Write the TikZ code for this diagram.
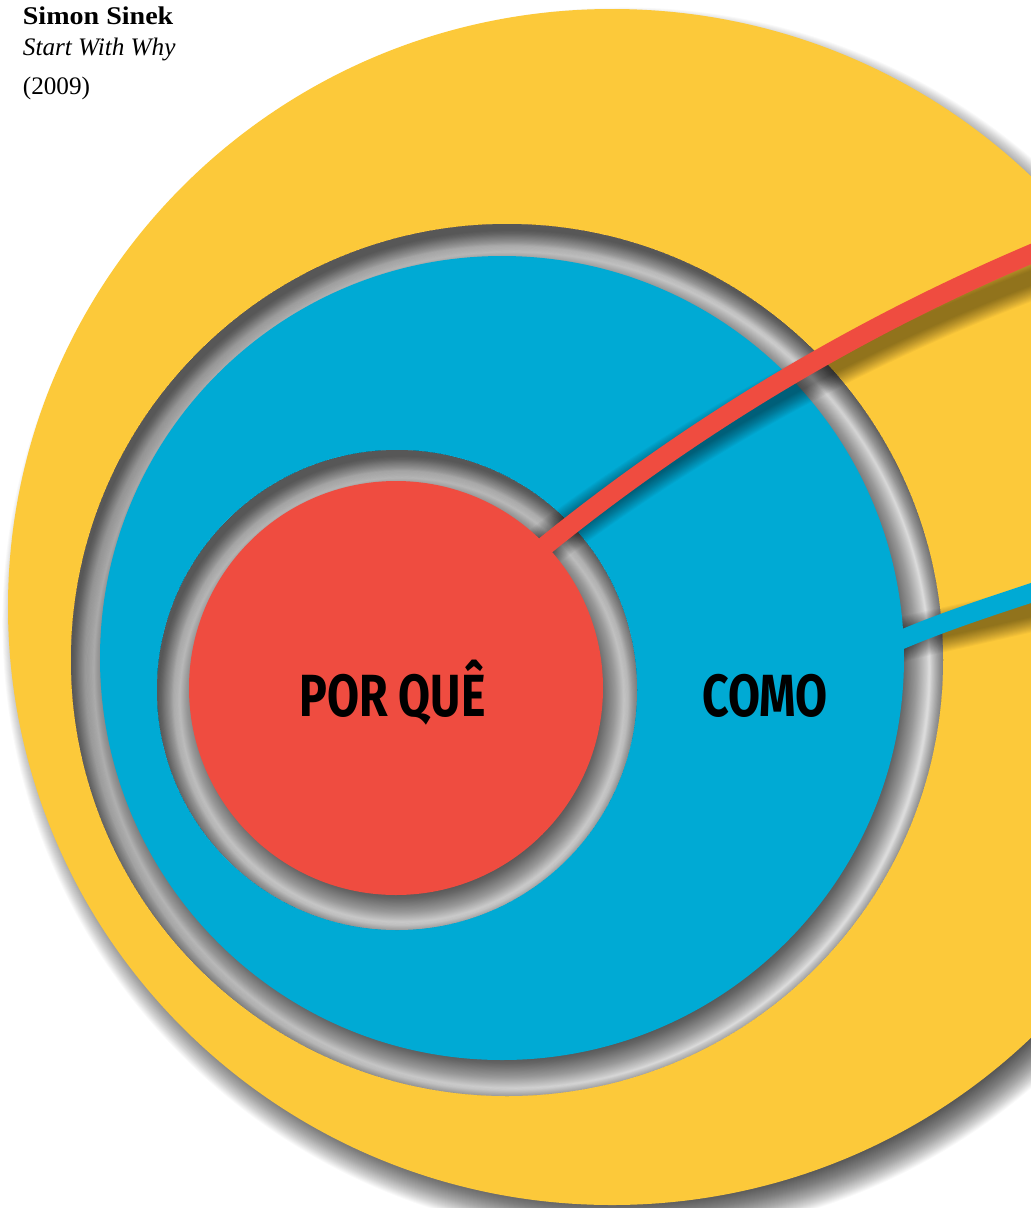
\documentclass[tikz,border=0pt]{standalone}
\usepackage{fontspec}
\newfontfamily\serifl{Liberation Serif}
\newfontfamily\headfont{Fira Sans}
\definecolor{ylw}{HTML}{FCC93A}
\definecolor{blu}{HTML}{00AAD4}
\definecolor{rd}{HTML}{EF4C40}
\definecolor{ringgray}{HTML}{DBDBDB}
% drop shadow of a disk: cx, cy, R, lo, hi
\newcommand{\diskshadow}[5]{%
  \foreach \k in {0,...,39}{%
    \fill[black,fill opacity=0.019] (#1,#2) circle[radius={#3+#4+(\k+0.5)*(#5-(#4))/40}];}}
% inset shadow inside a hole: cx, cy, R, dx, dy, lo, hi
\newcommand{\insetshadow}[7]{%
  \begin{scope}
  \clip (#1,#2) circle[radius=#3];
  \foreach \k in {0,...,39}{%
    \fill[black,fill opacity=0.019,even odd rule] (#1,#2) circle[radius={#3+40}]
      ({#1+#4},{#2+#5}) circle[radius={#3+#6+(\k+0.5)*(#7-(#6))/40}];}
  \end{scope}}
\tikzset{
  bigword/.style={anchor=base,inner sep=0pt,font=\headfont\bfseries\fontsize{59.5}{60}\selectfont},
  metaline/.style={anchor=base west,inner sep=0pt},
  ribbon/.style={line width=19pt,line cap=butt},
}
\begin{document}
\begin{tikzpicture}[x=1pt,y=-1pt]
\useasboundingbox (0,0) rectangle (1031,1208);
\fill[white] (0,0) rectangle (1031,1208);
% key points
\coordinate (rs) at (515,570);
\coordinate (r0) at (546,545);
\coordinate (r3) at (1031,254);
\coordinate (re) at (1080,233);
\coordinate (bs) at (878,649.5);
\coordinate (b0) at (904,638.5);
\coordinate (b3) at (1031,593);
\coordinate (be) at (1070,580);
\begin{scope}
\clip (0,0) rectangle (1031,1208);
% yellow disk shadow on the page
\foreach \k in {0,...,39}{%
  \fill[black,fill opacity=0.022] (624,623) ellipse[x radius={584+(\k+0.5)*38/40}, y radius={578+(\k+0.5)*38/40}];}
\fill[ylw] (612,607) ellipse[x radius=604, y radius=598];
% outer hole
\fill[ringgray] (507,660) circle[radius=436];
\insetshadow{507}{660}{436}{5}{10}{-18}{4}
\begin{scope}
  \clip (507,660) circle[radius=436];
  \diskshadow{507}{668}{402}{-12}{20}
\end{scope}
% blue ribbon shadow
\foreach \w in {44,42,...,14}{%
  \draw[black,draw opacity=0.032,line width=\w pt] (bs) -- (b0) .. controls (948,628.9) and (992,618.9) .. (1035,609) -- (1074,596);}
\fill[blu] (502,658) circle[radius=402];
\draw[ribbon,blu] (bs) -- (b0) .. controls (946,620.9) and (989,606.9) .. (b3) -- (be);
% inner hole
\fill[ringgray] (397,690) circle[radius=240];
\insetshadow{397}{690}{240}{5}{10}{-18}{4}
\begin{scope}
  \clip (397,690) circle[radius=240];
  \diskshadow{401}{698}{207}{-12}{20}
\end{scope}
% red ribbon shadow
\foreach \w in {44,42,...,14}{%
  \draw[black,draw opacity=0.032,line width=\w pt] (rs) -- (r0) .. controls (695,433) and (861,342) .. (1037,276) -- (1086,255);}
\fill[rd] (396,688) circle[radius=207];
\draw[ribbon,rd] (rs) -- (r0) .. controls (693,426) and (857,328) .. (r3) -- (re);
\end{scope}
% labels
\node[bigword] (why) at (392.5,716) {\scalebox{0.78}[1]{POR QUÊ}};
\node[bigword] (how) at (765,716) {\scalebox{0.78}[1]{COMO}};
\node[metaline,font=\serifl\bfseries\fontsize{25.5}{28}\selectfont] (author) at (22.7,24) {\scalebox{1.1}[1]{Simon Sinek}};
\node[metaline,font=\serifl\itshape\fontsize{25.2}{28}\selectfont] (book) at (22.7,55) {Start With Why};
\node[metaline,font=\serifl\fontsize{25.2}{28}\selectfont] (year) at (22.7,94) {(2009)};
\end{tikzpicture}
\end{document}
